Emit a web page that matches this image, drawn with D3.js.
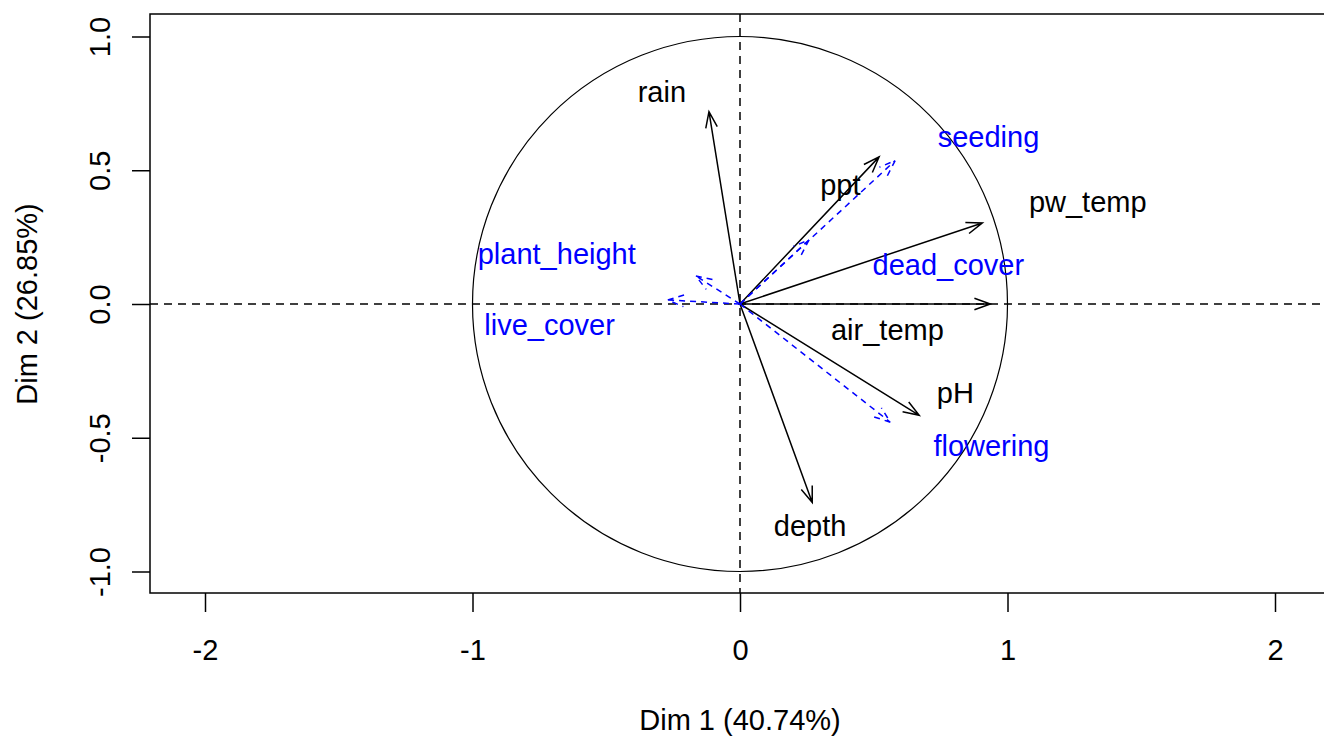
<!DOCTYPE html>
<html><head><meta charset="utf-8">
<script src="https://cdn.jsdelivr.net/npm/d3@7"></script>
<style>body{margin:0;background:#fff}svg text{font-family:"Liberation Sans",Arial,sans-serif}</style>
</head><body><svg id="c" width="1324" height="738"></svg>
<script>
// active variables (black)
const activeVars = ["rain","ppt","pw_temp","air_temp","pH","depth"];
const activeX = [-0.116, 0.52, 0.906, 0.936, 0.670, 0.27];
const activeY = [0.719, 0.55, 0.303, 0.0, -0.416, -0.742];
const activeLabX = [-0.292, 0.375, 1.30, 0.551, 0.805, 0.262];
const activeLabY = [0.794, 0.446, 0.382, -0.097, -0.333, -0.828];
// supplementary variables (blue)
const suppVars = ["seeding","dead_cover","flowering","plant_height","live_cover"];
const suppX = [0.58, 0.258, 0.562, -0.165, -0.27];
const suppY = [0.536, 0.24, -0.442, 0.105, 0.015];
const suppLabX = [0.929, 0.779, 0.94, -0.685, -0.712];
const suppLabY = [0.625, 0.146, -0.532, 0.187, -0.079];
const xTicks = [-2,-1,0,1,2];
const yTicks = [-1.0,-0.5,0.0,0.5,1.0];
const xTitle = "Dim 1 (40.74%)";
const yTitle = "Dim 2 (26.85%)";

const svg = d3.select("#c");
const u = 267.5, cx = 740, cy = 304;
const L = 150, R = 1345, T = 14, B = 593;
const x = d3.scaleLinear().domain([(L-cx)/u,(R-cx)/u]).range([L,R]);
const y = d3.scaleLinear().domain([(cy-B)/u,(cy-T)/u]).range([B,T]);
const fs = 29;
const hyph = f => d => f(d).replace("\u2212","-");

// box
svg.append("rect").attr("x",L).attr("y",T).attr("width",R-L).attr("height",B-T)
  .attr("fill","none").attr("stroke","#000").attr("stroke-width",1.5);

// axes
const xa = svg.append("g").attr("transform",`translate(0,${B})`)
  .call(d3.axisBottom(x).tickValues(xTicks).tickSize(19).tickPadding(20).tickFormat(hyph(d3.format("d"))));
const ya = svg.append("g").attr("transform",`translate(${L},0)`)
  .call(d3.axisLeft(y).tickValues(yTicks).tickSize(18).tickPadding(0).tickFormat(hyph(d3.format(".1f"))));
[xa,ya].forEach(g=>{g.select(".domain").remove();g.selectAll("line").attr("stroke","#000").attr("stroke-width",1.5);
  g.selectAll("text").attr("font-size",fs).attr("fill","#000").attr("font-family","Liberation Sans, Arial, sans-serif");});
xa.selectAll("text").attr("dy","0.35em").attr("y",57);
ya.selectAll("text").attr("transform",`translate(${100-L},0) rotate(-90)`).attr("x",0).attr("y",0)
  .attr("dy","0.35em").attr("text-anchor","middle");

// titles
svg.append("text").attr("x",cx).attr("y",720).attr("text-anchor","middle").attr("dy","0.35em")
  .attr("font-size",fs).text(xTitle);
svg.append("text").attr("transform",`translate(27,${cy}) rotate(-90)`).attr("text-anchor","middle")
  .attr("dy","0.35em").attr("font-size",fs).text(yTitle);

svg.append("defs").append("clipPath").attr("id","pc").append("rect")
  .attr("x",L).attr("y",T).attr("width",R-L).attr("height",B-T);
const p = svg.append("g").attr("clip-path","url(#pc)");

// reference lines
p.append("line").attr("x1",L).attr("x2",R).attr("y1",y(0)).attr("y2",y(0))
  .attr("stroke","#000").attr("stroke-width",1.5).attr("stroke-dasharray","8,6");
p.append("line").attr("x1",x(0)).attr("x2",x(0)).attr("y1",T).attr("y2",B)
  .attr("stroke","#000").attr("stroke-width",1.5).attr("stroke-dasharray","8,6");
// unit circle
p.append("circle").attr("cx",x(0)).attr("cy",y(0)).attr("r",x(1)-x(0))
  .attr("fill","none").attr("stroke","#000").attr("stroke-width",1.2);

function arrow(g, vx, vy, col, dash){
  const x0=x(0), y0=y(0), x1=x(vx), y1=y(vy);
  const a=Math.atan2(y1-y0,x1-x0), len=17, ang=20*Math.PI/180;
  const path=`M${x0},${y0}L${x1},${y1}M${x1-len*Math.cos(a-ang)},${y1-len*Math.sin(a-ang)}L${x1},${y1}L${x1-len*Math.cos(a+ang)},${y1-len*Math.sin(a+ang)}`;
  g.append("path").attr("d",path).attr("fill","none").attr("stroke",col).attr("stroke-width",1.5)
   .attr("stroke-dasharray",dash?"6,5":null);
}
activeVars.forEach((n,i)=>arrow(p,activeX[i],activeY[i],"#000",false));
suppVars.forEach((n,i)=>arrow(p,suppX[i],suppY[i],"#0000FF",true));

activeVars.forEach((n,i)=>p.append("text").attr("x",x(activeLabX[i])).attr("y",y(activeLabY[i]))
  .attr("text-anchor","middle").attr("dy","0.35em").attr("font-size",fs).attr("fill","#000").text(n));
suppVars.forEach((n,i)=>p.append("text").attr("x",x(suppLabX[i])).attr("y",y(suppLabY[i]))
  .attr("text-anchor","middle").attr("dy","0.35em").attr("font-size",fs).attr("fill","#0000FF").text(n));
</script></body></html>
